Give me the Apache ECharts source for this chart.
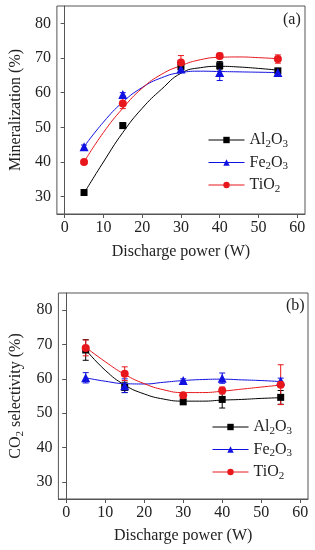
<!DOCTYPE html>
<html><head><meta charset="utf-8">
<script src="https://cdn.jsdelivr.net/npm/echarts@6/dist/echarts.min.js"></script>
<style>html,body{margin:0;padding:0;background:#fff}#c{width:315px;height:550px}</style>
</head><body><div id="c"></div>
<script>
// x positions (discharge power, W)
const power = [5, 15, 30, 40, 55];
const fitPower = [5, 10, 15, 20, 25, 30, 35, 40, 45, 50, 55];
const xTicks = [0, 10, 20, 30, 40, 50, 60];
const yTicks = [30, 40, 50, 60, 70, 80];

// (a) Mineralization (%)
const minAl = [31.2, 50.5, 67.5, 67.8, 66.3];
const minFe = [44.4, 59.5, 66.8, 65.8, 65.8];
const minTi = [40.0, 56.9, 68.7, 70.6, 69.7];
const minAlErr = [0.5, 0.8, 0.6, 1.2, 0.6];
const minFeErr = [0.5, 0.5, 1.0, 2.3, 0.8];
const minTiErr = [0.5, 1.5, 2.0, 0.8, 1.2];
const minAlFit = [31.0, 40.0, 48.5, 55.5, 61.0, 65.6, 67.2, 67.6, 67.4, 67.0, 66.5];
const minFeFit = [44.4, 51.5, 57.3, 61.5, 64.3, 65.8, 66.2, 66.1, 66.0, 65.9, 65.8];
const minTiFit = [40.0, 48.5, 55.5, 61.3, 65.3, 67.8, 69.5, 70.2, 70.3, 70.1, 69.8];

// (b) CO2 selectivity (%)
const selAl = [68.4, 57.5, 53.3, 54.0, 54.6];
const selFe = [60.3, 58.0, 59.5, 60.2, 59.4];
const selTi = [69.0, 61.5, 55.2, 56.6, 58.3];
const selAlErr = [3.0, 1.5, 0.5, 2.5, 2.0];
const selFeErr = [1.5, 2.0, 0.5, 1.5, 0.8];
const selTiErr = [2.3, 2.0, 0.5, 1.0, 5.8];
const selAlFit = [68.5, 62.5, 58.2, 55.6, 54.1, 53.5, 53.5, 53.8, 54.0, 54.3, 54.5];
const selFeFit = [60.3, 59.3, 58.6, 58.5, 59.0, 59.5, 59.8, 59.9, 59.7, 59.5, 59.2];
const selTiFit = [69.2, 65.0, 61.3, 58.6, 56.8, 56.0, 56.0, 56.4, 57.0, 57.6, 58.2];

const names = ['Al2O3', 'Fe2O3', 'TiO2'];
const colors = ['#000000', '#1010e0', '#e8171c'];
const symbols = ['rect', 'triangle', 'circle'];
const symSizes = [7, 9, 8];

const FONT = 'Liberation Serif';
const axisColor = '#555';
const rich = {
  n: {fontFamily: FONT, fontSize: 16, color: '#222'},
  s: {fontFamily: FONT, fontSize: 11, color: '#222', padding: [8, 0, 0, 0]}
};
function fmtName(n) {
  return n.replace(/([A-Za-z]+)(\d)/g, '{n|$1}{s|$2}').replace(/\}([A-Za-z]+)$/, '}{n|$1}');
}
function pairs(xs, ys) { return xs.map((x, i) => [x, ys[i]]); }

function xAxis(gi) {
  return {
    type: 'value', gridIndex: gi, min: -2, max: 62,
    name: 'Discharge power (W)', nameLocation: 'middle', nameGap: gi === 0 ? 30 : 29,
    nameTextStyle: {fontFamily: FONT, fontSize: 16, color: '#222'},
    axisLine: {lineStyle: {color: axisColor, width: 1}},
    axisTick: {show: true, inside: false, length: 4, customValues: xTicks, lineStyle: {color: axisColor}},
    axisLabel: {fontFamily: FONT, fontSize: 16, color: '#222', margin: 6, customValues: xTicks},
    splitLine: {show: false}
  };
}
function yAxis(gi, nm, gap) {
  return {
    type: 'value', gridIndex: gi, min: 25, max: 85,
    name: nm, nameLocation: 'middle', nameGap: gap, nameRotate: 90,
    nameTextStyle: {fontFamily: FONT, fontSize: 16, color: '#222', rich: rich},
    axisLine: {lineStyle: {color: axisColor, width: 1}},
    axisTick: {show: true, inside: false, length: 4, customValues: yTicks, lineStyle: {color: axisColor}},
    axisLabel: {fontFamily: FONT, fontSize: 16, color: '#222', margin: 6, customValues: yTicks},
    splitLine: {show: false}
  };
}

function errSeries(gi, name, ys, errs, color) {
  return {
    type: 'custom', name: name + ' err', xAxisIndex: gi, yAxisIndex: gi, z: 3,
    data: power.map((x, i) => [x, ys[i] - errs[i], ys[i] + errs[i]]),
    renderItem: function (params, api) {
      const lo = api.coord([api.value(0), api.value(1)]);
      const hi = api.coord([api.value(0), api.value(2)]);
      const w = 3;
      const st = {stroke: color, lineWidth: 1};
      return {type: 'group', children: [
        {type: 'line', shape: {x1: lo[0], y1: lo[1], x2: hi[0], y2: hi[1]}, style: st},
        {type: 'line', shape: {x1: lo[0] - w, y1: lo[1], x2: lo[0] + w, y2: lo[1]}, style: st},
        {type: 'line', shape: {x1: hi[0] - w, y1: hi[1], x2: hi[0] + w, y2: hi[1]}, style: st}
      ]};
    }
  };
}

const series = [];
const panels = [
  {fits: [minAlFit, minFeFit, minTiFit], pts: [minAl, minFe, minTi], errs: [minAlErr, minFeErr, minTiErr]},
  {fits: [selAlFit, selFeFit, selTiFit], pts: [selAl, selFe, selTi], errs: [selAlErr, selFeErr, selTiErr]}
];
panels.forEach((p, gi) => {
  for (let k = 0; k < 3; k++) {
    series.push({
      type: 'line', name: names[k], xAxisIndex: gi, yAxisIndex: gi, smooth: 0.5,
      data: pairs(fitPower, p.fits[k]), showSymbol: false, symbol: symbols[k], symbolSize: symSizes[k],
      lineStyle: {color: colors[k], width: 1}, itemStyle: {color: colors[k]}, z: 2, silent: true
    });
  }
  for (let k = 0; k < 3; k++) series.push(errSeries(gi, names[k], p.pts[k], p.errs[k], colors[k]));
  for (let k = 0; k < 3; k++) {
    series.push({
      type: 'scatter', name: names[k] + ' pts', xAxisIndex: gi, yAxisIndex: gi,
      data: pairs(power, p.pts[k]), symbol: symbols[k], symbolSize: symSizes[k],
      itemStyle: {color: colors[k], opacity: 1}, z: 4
    });
  }
});

function legend(left, top) {
  return {
    data: names.map((n, k) => ({name: n, lineStyle: {color: colors[k], width: 1}, itemStyle: {color: colors[k]}})),
    orient: 'vertical', left: left, top: top, itemWidth: 36, itemHeight: 8, itemGap: 5,
    selectedMode: false, formatter: fmtName,
    textStyle: {fontFamily: FONT, fontSize: 16, color: '#222', rich: rich}
  };
}

const chart = echarts.init(document.getElementById('c'), null, {renderer: 'canvas'});
chart.setOption({
  animation: false,
  backgroundColor: '#fff',
  grid: [
    {left: 46, top: 6, right: 10, height: 208, show: true, borderColor: axisColor, borderWidth: 1, backgroundColor: 'transparent'},
    {left: 50, top: 293, right: 7, height: 206, show: true, borderColor: axisColor, borderWidth: 1, backgroundColor: 'transparent'}
  ],
  xAxis: [xAxis(0), xAxis(1)],
  yAxis: [yAxis(0, 'Mineralization (%)', 21), yAxis(1, '{n|CO}{s|2}{n| selectivity (%)}', 25)],
  legend: [legend(203, 127), legend(207, 414)],
  graphic: [
    {type: 'text', left: 283, top: 12, style: {text: '(a)', font: '16px "Liberation Serif"', fill: '#222'}},
    {type: 'text', left: 286, top: 298, style: {text: '(b)', font: '16px "Liberation Serif"', fill: '#222'}}
  ],
  series: series
});
</script></body></html>
